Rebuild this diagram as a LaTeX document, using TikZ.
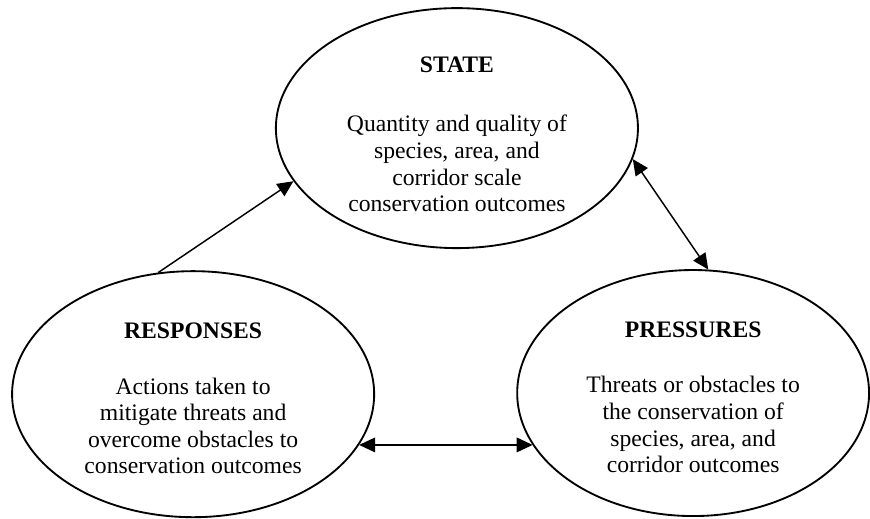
\documentclass[tikz,border=0pt]{standalone}
\usepackage{fontspec}
\setmainfont{Liberation Serif}
\usetikzlibrary{shapes.geometric,arrows.meta}

\begin{document}
\begin{tikzpicture}[
    blob/.style={ellipse, draw, line width=1.4pt, inner sep=0pt, align=center,
      minimum width=95.8mm, minimum height=63.5mm,
      font=\fontsize{17.8pt}{20pt}\selectfont},
    tip/.tip={Triangle[length=12pt, width=11pt]},
    link/.style={line width=1.1pt, -tip},
    both/.style={line width=1.1pt, tip-tip}
  ]
    \useasboundingbox (0,0) rectangle (230.2mm, 137.1mm);
    \node[blob] (state) at (120.9mm, 103.2mm) {\rule{0pt}{21pt}\textbf{STATE}\\[25pt] Quantity and quality of\\ species, area, and\\ corridor scale\\ conservation outcomes};
    \node[blob, minimum height=65.1mm] (resp) at (51.1mm, 32.8mm) {\rule{0pt}{18pt}\textbf{RESPONSES}\\[22pt] Actions taken to\\ mitigate threats and\\ overcome obstacles to\\ conservation outcomes};
    \node[blob, minimum width=93.1mm, minimum height=65.1mm] (pres) at (183.4mm, 33.1mm) {\rule{0pt}{18pt}\textbf{PRESSURES}\\[22pt] Threats or obstacles to\\ the conservation of\\ species, area, and\\ corridor outcomes};
    \draw[link] (resp.106) -- (state.198);
    \draw[both] (state.350) -- (pres.83);
    \draw[both] (resp.343) -- (resp.343 -| pres.198);
  \end{tikzpicture}
\end{document}
